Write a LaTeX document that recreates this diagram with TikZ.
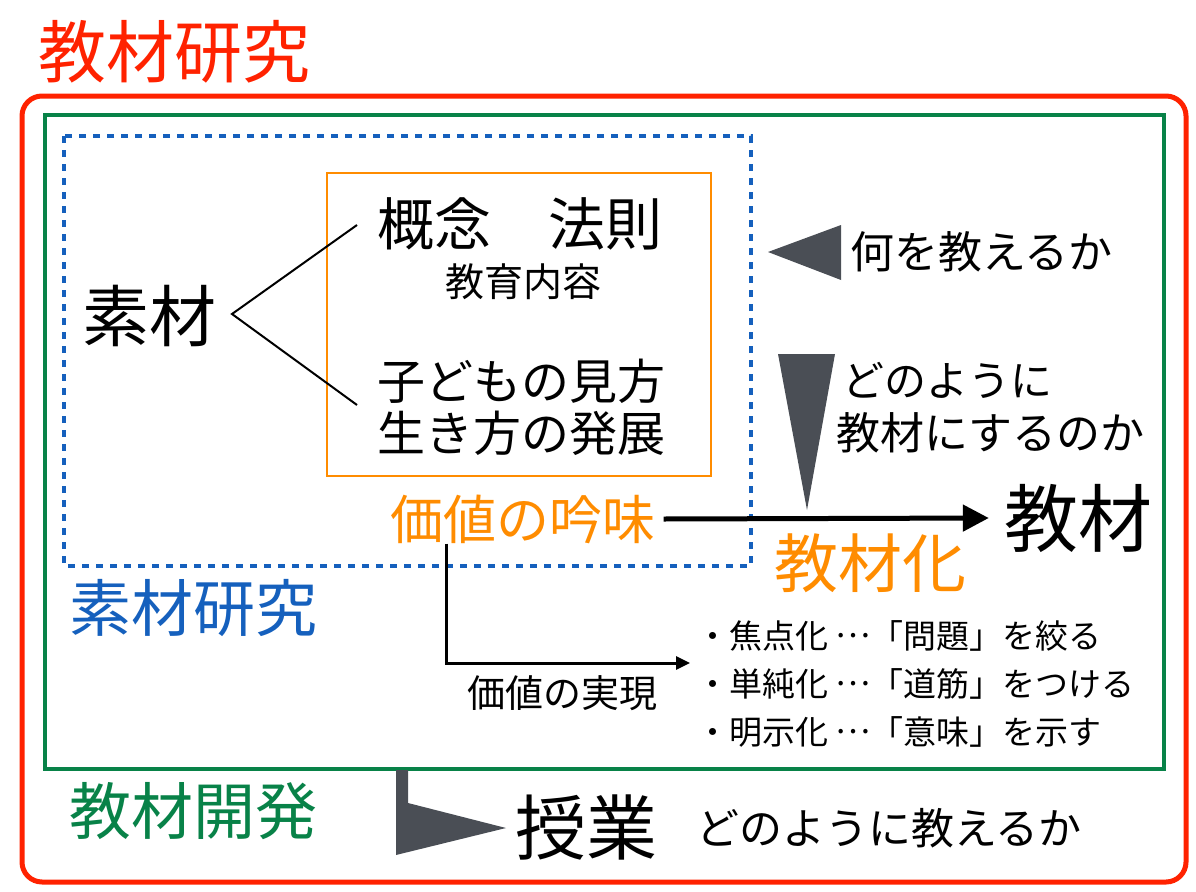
\documentclass[tikz,border=0pt]{standalone}
\usepackage{fontspec}
\setmainfont{Noto Sans CJK JP}
\usetikzlibrary{arrows.meta}
\definecolor{cred}{RGB}{255,34,0}
\definecolor{cgreen}{RGB}{8,130,72}
\definecolor{cblue}{RGB}{21,96,189}
\definecolor{corange}{RGB}{255,140,0}
\definecolor{cgray}{RGB}{74,78,85}
\newcommand\fsz[1]{\fontsize{#1}{#1}\selectfont}
\newcommand\middots{\raisebox{0.32em}{…}}
\begin{document}
\begin{tikzpicture}[x=1pt,y=-1pt,
  lbl/.style={inner sep=0pt, anchor=center},
  lft/.style={inner sep=0pt, anchor=west},
  frame/.style={line width=#1}]
\useasboundingbox (0,0) rectangle (1196,891);
% frames
\draw[cred, frame=5pt, rounded corners=20pt] (22,96) rectangle (1186,882);
\draw[cgreen, frame=4pt] (45,115) rectangle (1164,769);
\draw[cblue, frame=3.5pt, dash pattern=on 7pt off 7pt] (64,136) rectangle (751,566);
\draw[corange, frame=1.5pt] (327,173) rectangle (711,476);
% titles
\node[lbl, text=cred, font=\fsz{68}] (title) at (174,52) {教材研究};
\node[lbl, text=cblue, font=\fsz{62}] (sozaikenkyu) at (193,608) {素材研究};
\node[lbl, text=cgreen, font=\fsz{62}] (kaihatsu) at (193,811) {教材開発};
% left part
\node[lbl, font=\fsz{67}] (sozai) at (149,316) {素材};
\coordinate (vtx) at (232,314);
\coordinate (b1) at (357,225);
\coordinate (b2) at (357,405);
\draw[line width=2pt] (b1) -- (vtx) -- (b2);
\node[lbl, font=\fsz{57}] (gainen) at (520,224) {概念　法則};
\node[lbl, font=\fsz{39}] (kyoiku) at (523,282) {教育内容};
\node[lbl, font=\fsz{48}] (kodomo) at (521,381) {子どもの見方};
\node[lbl, font=\fsz{48}] (ikikata) at (521,433) {生き方の発展};
\node[lbl, text=corange, font=\fsz{53}] (kachi) at (523,519) {価値の吟味};
% right part
\node[lbl, font=\fsz{74}] (kyozai) at (1078,518) {教材};
\node[lbl, text=corange, font=\fsz{64}] (kyozaika) at (870,563) {教材化};
\node[lft, font=\fsz{44}] (nani) at (850,252) {何を教えるか};
\node[lft, font=\fsz{42}] (dono1) at (842,380) {どのように};
\node[lft, font=\fsz{44}] (dono2) at (836,433) {教材にするのか};
\fill[cgray] (768,252) -- (841,225) -- (841,280) -- cycle;
\fill[cgray] (778,354) -- (835,354) -- (807,510) -- cycle;
\draw[line width=5pt, -{Triangle[length=26pt,width=26pt]}] ([xshift=8pt]kachi.east) -- ([xshift=-15pt]kyozai.west);
% realisation
\coordinate (jt) at (690,663);
\draw[line width=3pt, -{Triangle[length=14pt,width=13pt]}] ([xshift=-77pt]kachi.south) |- (jt);
\node[lbl, font=\fsz{38}] (jitsugen) at (562,693) {価値の実現};
\node[lft, font=\fsz{33}] (p1) at (696,636) {・焦点化 \middots「問題」を絞る};
\node[lft, font=\fsz{33}] (p2) at (696,684) {・単純化 \middots「道筋」をつける};
\node[lft, font=\fsz{33}] (p3) at (696,732) {・明示化 \middots「意味」を示す};
% lesson
\fill[cgray] (396,770) -- (408,770) -- (408,803) -- (506,828) -- (396,855) -- cycle;
\node[lbl, font=\fsz{71}] (jugyo) at (586,828) {授業};
\node[lft, font=\fsz{43}] (dono3) at (696,828) {どのように教えるか};
\end{tikzpicture}
\end{document}
